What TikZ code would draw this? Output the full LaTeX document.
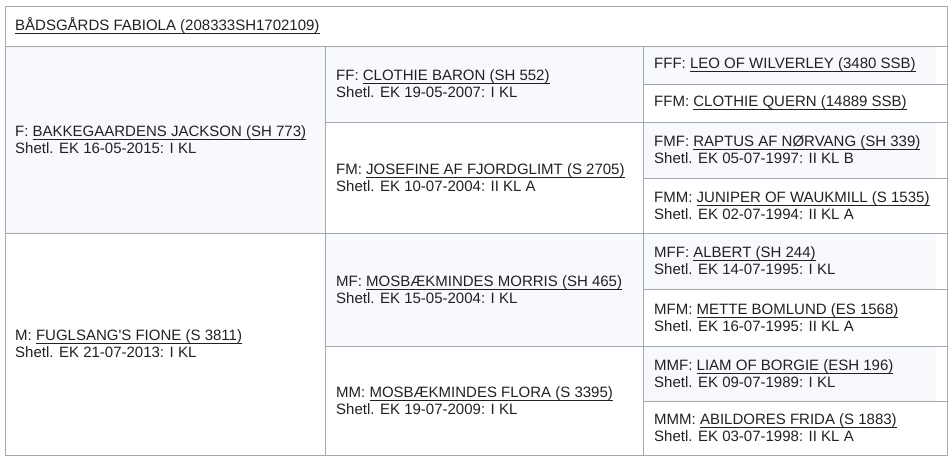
\documentclass[tikz,border=0pt]{standalone}
\usepackage{fontspec}
\setmainfont{Liberation Sans}
\usetikzlibrary{positioning}
\definecolor{rowshade}{RGB}{248,249,252}
\definecolor{gridline}{RGB}{162,169,177}
\definecolor{txtgray}{RGB}{32,33,34}
% link text: thin rule just under the baseline
\newcommand{\lnk}[1]{\setbox0\hbox{#1}\rlap{\vrule width\wd0 height -2.2pt depth 3.2pt}\box0}

\begin{document}
\begin{tikzpicture}[x=1pt, y=-1pt,
  cell/.style={gridline, line width=1pt},
  entry/.style={anchor=west, align=left, inner sep=0pt, text=txtgray,
                font=\fontsize{15}{17}\selectfont}]

\useasboundingbox (0,0) rectangle (952,459);

% Shaded rows
\fill[rowshade] (5,46) rectangle (325,233);     % F
\fill[rowshade] (325,46) rectangle (643,122);   % FF
\fill[rowshade] (325,233) rectangle (643,346);  % MF
\fill[rowshade] (643,46) rectangle (936,84);    % FFF
\fill[rowshade] (643,122) rectangle (936,178);  % FMF
\fill[rowshade] (643,233) rectangle (936,289);  % MFF
\fill[rowshade] (643,346) rectangle (936,401);  % MMF

% Grid
\draw[cell] (5,6) rectangle (947,455);
\draw[cell] (5,46) -- (947,46);
\draw[cell] (5,233) -- (947,233);
\draw[cell] (325,46) -- (325,455);
\draw[cell] (643,46) -- (643,455);
\draw[cell] (325,122) -- (947,122);
\draw[cell] (325,346) -- (947,346);
\draw[cell] (643,84) -- (947,84);
\draw[cell] (643,178) -- (947,178);
\draw[cell] (643,289) -- (947,289);
\draw[cell] (643,401) -- (947,401);

% Horse
\node[entry] (title) at (15,26) {\lnk{BÅDSGÅRDS FABIOLA (208333SH1702109)}};

% Parents
\node[entry] (f) at (15,140) {F: \lnk{BAKKEGAARDENS JACKSON (SH 773)}\\Shetl. EK 16-05-2015: I KL};
\node[entry] (m) at (15,344) {M: \lnk{FUGLSANG\textquotesingle S FIONE (S 3811)}\\Shetl. EK 21-07-2013: I KL};

% Grandparents
\node[entry] (ff) at (336,84) {FF: \lnk{CLOTHIE BARON (SH 552)}\\Shetl. EK 19-05-2007: I KL};
\node[entry] (fm) at (336,177.5) {FM: \lnk{JOSEFINE AF FJORDGLIMT (S 2705)}\\Shetl. EK 10-07-2004: II KL A};
\node[entry] (mf) at (336,289.5) {MF: \lnk{MOSBÆKMINDES MORRIS (SH 465)}\\Shetl. EK 15-05-2004: I KL};
\node[entry] (mm) at (336,400.5) {MM: \lnk{MOSBÆKMINDES FLORA (S 3395)}\\Shetl. EK 19-07-2009: I KL};

% Great-grandparents
\node[entry] (fff) at (654,65) {FFF: \lnk{LEO OF WILVERLEY (3480 SSB)}};
\node[entry] (ffm) at (654,103) {FFM: \lnk{CLOTHIE QUERN (14889 SSB)}};
\node[entry] (fmf) at (654,150) {FMF: \lnk{RAPTUS AF NØRVANG (SH 339)}\\Shetl. EK 05-07-1997: II KL B};
\node[entry] (fmm) at (654,205.5) {FMM: \lnk{JUNIPER OF WAUKMILL (S 1535)}\\Shetl. EK 02-07-1994: II KL A};
\node[entry] (mff) at (654,261) {MFF: \lnk{ALBERT (SH 244)}\\Shetl. EK 14-07-1995: I KL};
\node[entry] (mfm) at (654,317.5) {MFM: \lnk{METTE BOMLUND (ES 1568)}\\Shetl. EK 16-07-1995: II KL A};
\node[entry] (mmf) at (654,373.5) {MMF: \lnk{LIAM OF BORGIE (ESH 196)}\\Shetl. EK 09-07-1989: I KL};
\node[entry] (mmm) at (654,428) {MMM: \lnk{ABILDORES FRIDA (S 1883)}\\Shetl. EK 03-07-1998: II KL A};

\end{tikzpicture}
\end{document}
